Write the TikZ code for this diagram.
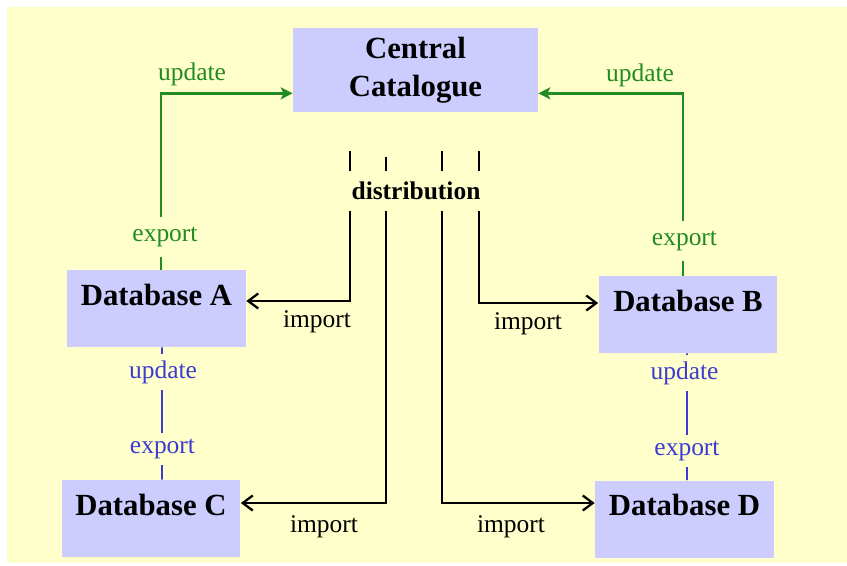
\documentclass[tikz,border=0pt]{standalone}
\usepackage{fontspec}
\setmainfont{Liberation Serif}
\usetikzlibrary{arrows.meta}

\definecolor{bgyellow}{RGB}{255,255,204}
\definecolor{boxblue}{RGB}{204,204,255}
\definecolor{updgreen}{RGB}{34,139,34}
\definecolor{expblue}{RGB}{60,60,210}

\begin{document}
\begin{tikzpicture}[x=0.02cm, y=-0.02cm,
        dbbox/.style={fill=boxblue, minimum width=3.58cm, inner xsep=0pt, inner ysep=0pt,
            text height=0.7cm, text depth=0.84cm, font=\fontsize{17.5}{21}\selectfont\bfseries},
        note/.style={inner sep=0.04cm, font=\fontsize{14.5}{17}\selectfont},
        tag/.style={note, fill=bgyellow, inner ysep=0.21cm},
        updline/.style={draw=updgreen, line width=1.6pt},
        expline/.style={draw=expblue, line width=1.1pt},
        impline/.style={draw=black, line width=1.3pt, -{Straight Barb[length=0.2cm, width=0.3cm]}}]

        % page and background
        \fill[white] (0,0) rectangle (847,565);
        \useasboundingbox (0,0) rectangle (847,565);
        \fill[bgyellow] (7,7) rectangle (847,563);

        % boxes
        \node[fill=boxblue, minimum width=4.9cm, minimum height=1.68cm, align=center,
            font=\fontsize{17.5}{21.5}\selectfont\bfseries] (cc) at (415.5,70) {Central\\Catalogue};
        \node[dbbox] (dbA) at (156.5,308.5) {Database A};
        \node[dbbox] (dbB) at (688,314.5) {Database B};
        \node[dbbox] (dbC) at (151,518.5) {Database C};
        \node[dbbox] (dbD) at (684.5,519) {Database D};

        % update to the catalogue
        \draw[updline, -{Stealth[length=0.24cm, width=0.24cm, inset=0.06cm]}] ([xshift=0.09cm]dbA.north) |- ([yshift=0.38cm]cc.south west);
        \draw[updline, -{Stealth[length=0.24cm, width=0.24cm, inset=0.06cm]}] ([xshift=-0.1cm]dbB.north) |- ([yshift=0.38cm]cc.south east);

        % update between databases
        \draw[expline] ([xshift=0.11cm]dbA.south) -- ([xshift=0.22cm]dbC.north);
        \draw[expline] ([xshift=-0.02cm]dbB.south) -- ([xshift=0.05cm]dbD.north);

        % distribution
        \coordinate (t1) at (350,151);
        \coordinate (t2) at (386,157);
        \coordinate (t3) at (442,151);
        \coordinate (t4) at (479,151);
        \draw[impline] (t1) |- ([yshift=0.15cm]dbA.east);
        \draw[impline] (t4) |- ([yshift=0.23cm]dbB.west);
        \draw[impline] (t2) |- ([yshift=0.31cm]dbC.east);
        \draw[impline] (t3) |- ([yshift=0.32cm]dbD.west);

        % labels
        \node[tag, inner xsep=0.1cm, inner ysep=0.22cm, font=\fontsize{14.5}{17}\selectfont\bfseries] (dist) at (416,191) {distribution};

        \node[note, text=updgreen] (updA) at (192,74) {update};
        \node[note, text=updgreen] (updB) at (640,75) {update};
        \node[tag, text=updgreen] (expA) at (165,237) {export};
        \node[tag, text=updgreen] (expB) at (684.5,241) {export};

        \node[tag, inner ysep=0.13cm, text=expblue] (updC) at (163,372) {update};
        \node[tag, inner ysep=0.13cm, text=expblue] (expC) at (162.5,449) {export};
        \node[tag, inner ysep=0.13cm, text=expblue] (updD) at (684.5,373) {update};
        \node[tag, inner ysep=0.13cm, text=expblue] (expD) at (687,451) {export};

        \node[note] (impA) at (317,322) {import};
        \node[note] (impB) at (528,324) {import};
        \node[note] (impC) at (324,527) {import};
        \node[note] (impD) at (511,527) {import};
    \end{tikzpicture}
\end{document}
